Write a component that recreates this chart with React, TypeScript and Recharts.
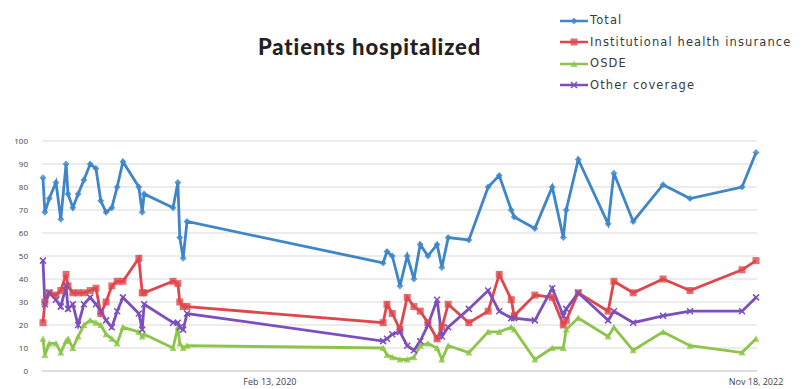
import { CartesianGrid, Line, LineChart, XAxis, YAxis } from "recharts";

// Day offsets of each survey, counted from the first one on the axis.
const days = [
  2, 6, 15, 29, 39, 50, 54, 64, 75, 87, 100, 112, 122, 133, 145, 156, 168, 201, 208, 212, 272, 282,
  286, 293, 301, 708, 716, 727, 743, 758, 772, 785, 801, 820, 830, 843, 886, 926, 949, 974, 980, 1023,
  1059, 1082, 1088, 1113, 1175, 1187, 1227, 1289, 1345, 1453, 1482,
];

const totalValues = [
  84, 69, 75, 82, 66, 90, 77, 71, 77, 83, 90, 88, 74, 69, 71, 80, 91, 80, 69, 77, 71, 82, 58, 49, 65,
  47, 52, 50, 37, 50, 40, 55, 50, 55, 45, 58, 57, 80, 85, 70, 67, 62, 80, 58, 70, 92, 64, 86, 65, 81,
  75, 80, 95,
];

const institutionalValues = [
  21, 30, 34, 33, 35, 42, 37, 34, 34, 34, 35, 36, 25, 30, 37, 39, 39, 49, 34, 34, 39, 38, 30, 28, 28,
  21, 29, 25, 18, 32, 28, 26, 21, 14, 19, 29, 21, 26, 42, 31, 24, 33, 32, 20, 22, 34, 26, 39, 34, 40,
  35, 44, 48,
];

const osdeValues = [
  14, 7, 12, 12, 8, 13, 14, 10, 15, 20, 22, 21, 20, 16, 14, 12, 19, 17, 15, 16, 10, 19, 12, 10, 11,
  10, 7, 6, 5, 5, 6, 11, 12, 10, 5, 11, 8, 17, 17, 19, 18, 5, 10, 10, 18, 23, 15, 19, 9, 17, 11, 8,
  14,
];

const otherValues = [
  48, 29, 34, 31, 28, 37, 27, 29, 20, 29, 32, 29, 26, 22, 19, 26, 32, 25, 18, 29, 21, 21, 19, 18, 25,
  13, 14, 16, 17, 11, 9, 13, 20, 31, 15, 19, 27, 35, 26, 23, 23, 22, 36, 24, 27, 34, 22, 26, 21, 24,
  26, 26, 32,
];

const yTicks = [0, 10, 20, 30, 40, 50, 60, 70, 80, 90, 100];
const xTickDays = [473, 1482];
const xTickLabels = ["Feb 13, 2020", "Nov 18, 2022"];

const seriesNames = ["Total", "Institutional health insurance", "OSDE", "Other coverage"];

const data = days.map((day, i) => ({
  day,
  total: totalValues[i],
  institutional: institutionalValues[i],
  osde: osdeValues[i],
  other: otherValues[i],
}));

type MarkerKind = "diamond" | "square" | "triangle" | "cross";

const SERIES: { key: string; name: string; color: string; marker: MarkerKind }[] = [
  { key: "total", name: seriesNames[0], color: "#3f86c9", marker: "diamond" },
  { key: "institutional", name: seriesNames[1], color: "#e0474c", marker: "square" },
  { key: "osde", name: seriesNames[2], color: "#8cc54a", marker: "triangle" },
  { key: "other", name: seriesNames[3], color: "#7d4fbd", marker: "cross" },
];

function markerShape(kind: MarkerKind, cx: number, cy: number, color: string, key?: string) {
  if (kind === "diamond") {
    return (
      <path key={key} d={`M${cx},${cy - 3.5}L${cx + 3.5},${cy}L${cx},${cy + 3.5}L${cx - 3.5},${cy}Z`} fill={color} opacity={0.8} />
    );
  }
  if (kind === "square") {
    return <rect key={key} x={cx - 3.5} y={cy - 3.5} width={7} height={7} fill={color} opacity={0.8} />;
  }
  if (kind === "triangle") {
    return <path key={key} d={`M${cx},${cy - 3.5}L${cx + 3.5},${cy + 3}L${cx - 3.5},${cy + 3}Z`} fill={color} opacity={0.8} />;
  }
  return (
    <path key={key} d={`M${cx - 3},${cy - 3}L${cx + 3},${cy + 3}M${cx + 3},${cy - 3}L${cx - 3},${cy + 3}`} stroke={color} strokeWidth={1.5} />
  );
}

function makeDot(kind: MarkerKind, color: string) {
  return (props: { cx?: number; cy?: number; key?: string }) => {
    const { cx, cy, key } = props;
    if (cx === undefined || cy === undefined) return <g key={key} />;
    return markerShape(kind, cx, cy, color, key);
  };
}

// Series key drawn above the plot, to the right of the title.
function LegendBox() {
  return (
    <div
      style={{
        position: "absolute",
        left: 560,
        top: 10,
        fontFamily: "DejaVu Sans",
        fontSize: 11.5,
        color: "#3a3a3a",
        lineHeight: "21.5px",
      }}
    >
      {SERIES.map((s) => (
        <div key={s.key} style={{ display: "flex", alignItems: "center", whiteSpace: "nowrap" }}>
          <svg width={28} height={10} style={{ marginRight: 2 }}>
            <line x1={0} y1={5} x2={28} y2={5} stroke={s.color} strokeWidth={2.5} />
            {markerShape(s.marker, 14, 5, s.color)}
          </svg>
          <span style={{ letterSpacing: 1.1 }}>{s.name}</span>
        </div>
      ))}
    </div>
  );
}

export default function App() {
  return (
    <div style={{ position: "absolute", left: 0, top: 0, width: 807, height: 389, background: "#fff", overflow: "hidden" }}>
      <div
        style={{
          position: "absolute",
          left: 258,
          top: 33,
          fontFamily: "Lato",
          fontWeight: 900,
          fontSize: 22,
          letterSpacing: 0.9,
          color: "#222",
          whiteSpace: "nowrap",
        }}
      >
        Patients hospitalized
      </div>
      <LegendBox />
      <LineChart width={807} height={389} data={data} margin={{ top: 141, right: 50, bottom: 0, left: 0 }}>
        <CartesianGrid vertical={false} stroke="#d9d9d9" />
        <XAxis
          dataKey="day"
          type="number"
          domain={[0, 1484]}
          ticks={xTickDays}
          tickFormatter={(v: number) => xTickLabels[xTickDays.indexOf(v)] ?? ""}
          tickLine={false}
          axisLine={{ stroke: "#d0d0d0" }}
          tick={{ fontSize: 9, fill: "#444", fontFamily: "Open Sans" }}
          height={18}
          tickMargin={2}
          interval={0}
        />
        <YAxis
          domain={[0, 100]}
          ticks={yTicks}
          width={42}
          tickLine={false}
          axisLine={false}
          tick={{ fontSize: 8, fill: "#444", fontFamily: "Open Sans" }}
          tickMargin={8}
          interval={0}
        />
        {SERIES.map((s) => (
          <Line
            key={s.key}
            type="linear"
            dataKey={s.key}
            name={s.name}
            stroke={s.color}
            strokeWidth={2.8}
            dot={makeDot(s.marker, s.color)}
            activeDot={false}
            isAnimationActive={false}
          />
        ))}
      </LineChart>
    </div>
  );
}
